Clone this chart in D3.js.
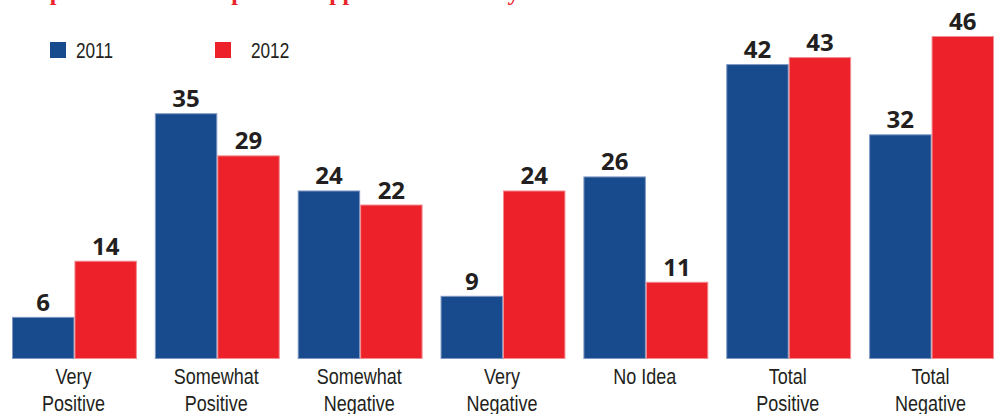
<!DOCTYPE html>
<html>
<head>
<meta charset="utf-8">
<script src="https://cdn.jsdelivr.net/npm/d3@7"></script>
<style>
  html, body { margin: 0; padding: 0; background: #fff; }
  svg { display: block; }
</style>
</head>
<body>
<script>
// Survey answers, two years side by side
const categories = [
  ["Very", "Positive"],
  ["Somewhat", "Positive"],
  ["Somewhat", "Negative"],
  ["Very", "Negative"],
  ["No Idea"],
  ["Total", "Positive"],
  ["Total", "Negative"]
];
const years = ["2011", "2012"];
const values2011 = [6, 35, 24, 9, 26, 42, 32];
const values2012 = [14, 29, 22, 24, 11, 43, 46];
const titleText = "Perception of the Arab public's approach to Turkey";

const W = 997, H = 414;
const colors = { "2011": "#174b8d", "2012": "#ec2129" };
const edges = { "2011": "#7f97c2", "2012": "#f28d92" };

const svg = d3.select("body").append("svg")
  .attr("width", W).attr("height", H);

// Headline (runs off the top edge)
svg.append("text")
  .attr("x", -7).attr("y", 0)
  .attr("fill", "#e8232a")
  .attr("font-family", "'Liberation Serif', 'Times New Roman', serif")
  .attr("font-weight", 700)
  .attr("font-size", 24)
  .text(titleText);

const x0 = d3.scaleBand()
  .domain(d3.range(categories.length))
  .range([12, 994])
  .paddingInner(18 / 143)
  .paddingOuter(0);

const x1 = d3.scaleBand()
  .domain(years)
  .range([0, x0.bandwidth()]);

const y = d3.scaleLinear().domain([0, 46]).range([359, 36]);

const rows = categories.map((c, i) => ({
  i,
  bars: [
    { year: "2011", v: values2011[i] },
    { year: "2012", v: values2012[i] }
  ]
}));

const groups = svg.selectAll("g.grp").data(rows).join("g")
  .attr("class", "grp")
  .attr("transform", d => `translate(${x0(d.i)},0)`);

groups.selectAll("rect").data(d => d.bars).join("rect")
  .attr("x", d => x1(d.year) + 0.5)
  .attr("y", d => y(d.v) + 0.5)
  .attr("width", x1.bandwidth() - 1)
  .attr("height", d => y(0) - y(d.v) - 1)
  .attr("fill", d => colors[d.year])
  .attr("stroke", d => edges[d.year])
  .attr("stroke-width", 1);

groups.selectAll("text.val").data(d => d.bars).join("text")
  .attr("class", "val")
  .attr("x", d => x1(d.year) + x1.bandwidth() / 2)
  .attr("y", d => y(d.v) - 6)
  .attr("text-anchor", "middle")
  .attr("fill", "#231f20")
  .attr("font-family", "'Open Sans', 'DejaVu Sans', sans-serif")
  .attr("font-weight", 700)
  .attr("font-size", 24)
  .text(d => d.v);

// Category names under each pair of bars, set in a condensed width
const labelFont = "'Liberation Sans', Arial, sans-serif";
const squeeze = 0.8;
groups.each(function (d) {
  const g = d3.select(this).append("g")
    .attr("transform", `translate(${x0.bandwidth() / 2 - 1},0) scale(${squeeze},1)`);
  const t = g.append("text")
    .attr("text-anchor", "middle")
    .attr("fill", "#231f20")
    .attr("font-family", labelFont)
    .attr("font-size", 22.5);
  categories[d.i].forEach((line, k) => {
    t.append("tspan")
      .attr("x", 0)
      .attr("y", 384 + k * 27.5)
      .text(line);
  });
});

// Legend
const legend = svg.append("g");
const legendX = { "2011": 50, "2012": 215 };
const legendTextX = { "2011": 76, "2012": 251 };
years.forEach(yr => {
  legend.append("rect")
    .attr("x", legendX[yr]).attr("y", 42)
    .attr("width", 16).attr("height", 16)
    .attr("fill", colors[yr]);
  legend.append("g")
    .attr("transform", `translate(${legendTextX[yr]},58) scale(${squeeze},1)`)
    .append("text")
    .attr("fill", "#231f20")
    .attr("font-family", labelFont)
    .attr("font-size", 21.5)
    .text(yr);
});
</script>
</body>
</html>
